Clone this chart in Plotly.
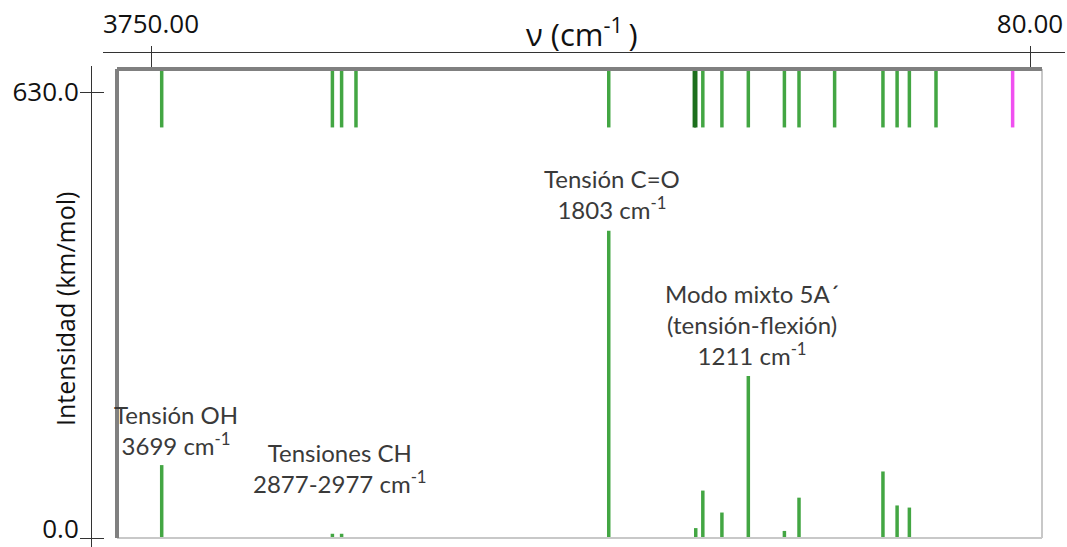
import plotly.graph_objects as go

# ---- data ----
freq = [3699, 2975, 2936, 2875, 1803, 1440, 1434, 1404, 1323, 1211, 1058, 996, 845, 640, 580, 528, 415, 90]
intensity = [103, 6, 6, 0, 434, 0, 14, 67, 36, 229, 10, 57, 0, 94, 46, 43, 0, 0]
strip_kind = ["n", "n", "n", "n", "n", "d", "d", "n", "n", "n", "n", "n", "n", "n", "n", "n", "n", "s"]

y_ticks = [0, 630]
y_ticklabels = ["0.0", "630.0"]
x_ticks = [3750, 80]
x_ticklabels = ["3750.00", "80.00"]

labels = [
    ("Tensión OH<br>3699 cm<sup>-1</sup>", 176, 430),
    ("Tensiones CH<br>2877-2977 cm<sup>-1</sup>", 340, 468),
    ("Tensión C=O<br>1803 cm<sup>-1</sup>", 612, 194),
    ("Modo mixto 5A´<br>(tensión-flexión)<br>1211 cm<sup>-1</sup>", 752, 324),
]

W, H = 1067, 547
GREEN = "#43a643"
kind_color = {"n": GREEN, "d": "#1d6f1d", "s": "#f050f0"}
STRIP_LO, STRIP_HI = 580, 660

fig = go.Figure()

# intensity sticks
sx, sy = [], []
for f, i in zip(freq, intensity):
    if i > 0:
        sx += [f, f, None]
        sy += [0, i, None]
fig.add_trace(go.Scatter(x=sx, y=sy, mode="lines", line=dict(color=GREEN, width=3.5),
                         showlegend=False, hoverinfo="skip"))

# mode markers strip at the top
for k in ["n", "d", "s"]:
    tx, ty = [], []
    for f, kk in zip(freq, strip_kind):
        if kk == k:
            tx += [f, f, None]
            ty += [STRIP_LO, STRIP_HI, None]
    fig.add_trace(go.Scatter(x=tx, y=ty, mode="lines", line=dict(color=kind_color[k], width=3.5),
                             showlegend=False, hoverinfo="skip"))

# invisible traces to materialise helper axes
for xa, ya in [("x2", "y"), ("x3", "y"), ("x", "y2"), ("x", "y3")]:
    fig.add_trace(go.Scatter(x=[None], y=[None], xaxis=xa, yaxis=ya, showlegend=False, hoverinfo="skip"))

# geometry
x_dom = [114 / W, 1043 / W]
x_rng = [3901.3, -38.8]
y_dom = [0, 1 - 66 / H]
y_rng = [-12.7, 666.8]
top_dom = [103 / W, 1065 / W]
top_rng = [3950.4, -66.1]
top_pos = 1 - 51.7 / H
y_pos = 91 / W
frame_top = 662.5
frame_left = (117 - 114) / (1043 - 114)
frame_right = (1042 - 114) / (1043 - 114)

tickfont = dict(family="Open Sans", size=26, color="#111111")
common_y = dict(domain=y_dom, range=y_rng, anchor="free", position=y_pos, side="left",
                showgrid=False, zeroline=False, automargin=False)

fig.update_layout(
    width=W, height=H,
    margin=dict(l=0, r=0, t=0, b=0),
    paper_bgcolor="white", plot_bgcolor="rgba(0,0,0,0)",
    xaxis=dict(domain=x_dom, range=x_rng, visible=False, anchor="y"),
    xaxis2=dict(domain=top_dom, range=top_rng, side="top", anchor="free", position=top_pos,
                showline=True, linecolor="#333333", linewidth=1, showgrid=False, zeroline=False,
                ticks="inside", ticklen=16, tickcolor="#333333", tickwidth=1,
                tickvals=x_ticks, ticktext=x_ticklabels, tickfont=tickfont,
                ticklabelstandoff=8, automargin=False),
    xaxis3=dict(domain=top_dom, range=top_rng, side="top", anchor="free", position=top_pos,
                overlaying="x2", showline=False, showgrid=False, zeroline=False,
                ticks="outside", ticklen=6, tickcolor="#333333", tickwidth=1,
                tickvals=x_ticks, showticklabels=False, automargin=False),
    yaxis=dict(**common_y, showline=True, linecolor="#333333", linewidth=1,
               ticks="outside", ticklen=11, tickcolor="#333333", tickwidth=1,
               tickvals=y_ticks[1:], ticktext=y_ticklabels[1:], tickfont=tickfont,
               ticklabelstandoff=-4, ticklabeloverflow="allow"),
    yaxis2=dict(**common_y, overlaying="y", showline=False,
                ticks="inside", ticklen=12, tickcolor="#333333", tickwidth=1,
                tickvals=y_ticks, showticklabels=False),
    yaxis3=dict(**common_y, overlaying="y", showline=False,
                ticks="outside", ticklen=11, tickcolor="#333333", tickwidth=1,
                tickvals=y_ticks[:1], ticktext=y_ticklabels[:1], tickfont=tickfont,
                ticklabelstandoff=-4, ticklabelshift=-9, ticklabeloverflow="allow"),
)

# plot frame
fig.add_shape(type="line", xref="x domain", yref="y", x0=frame_left, x1=frame_right, y0=0, y1=0,
              line=dict(color="#c8c8c8", width=2))
fig.add_shape(type="line", xref="x domain", yref="y", x0=frame_right, x1=frame_right, y0=0, y1=frame_top,
              line=dict(color="#c8c8c8", width=2))
fig.add_shape(type="line", xref="x domain", yref="y", x0=frame_left, x1=frame_right, y0=frame_top, y1=frame_top,
              line=dict(color="#808080", width=4))
fig.add_shape(type="line", xref="x domain", yref="y", x0=frame_left, x1=frame_left, y0=0, y1=frame_top,
              line=dict(color="#808080", width=4))

# axis titles
fig.add_annotation(text="ν (cm<sup>-1 </sup>)", xref="paper", yref="paper",
                   x=582 / W, y=1 - 33 / H, xanchor="center", yanchor="middle", showarrow=False,
                   font=dict(family="Open Sans", size=31, color="#111111"))
fig.add_annotation(text="Intensidad (km/mol)", xref="paper", yref="paper",
                   x=65 / W, y=1 - 309 / H, xanchor="center", yanchor="middle",
                   showarrow=False, textangle=-90,
                   font=dict(family="Open Sans", size=25, color="#111111"))

for txt, px, py in labels:
    fig.add_annotation(text=txt, xref="paper", yref="paper", x=px / W, y=1 - py / H,
                       xanchor="center", yanchor="middle",
                       showarrow=False, align="center",
                       font=dict(family="Lato", size=24, color="#3a3a3a"))

fig.write_html("out.html", config={"displayModeBar": False},
               post_script="document.body.style.margin='0';")
